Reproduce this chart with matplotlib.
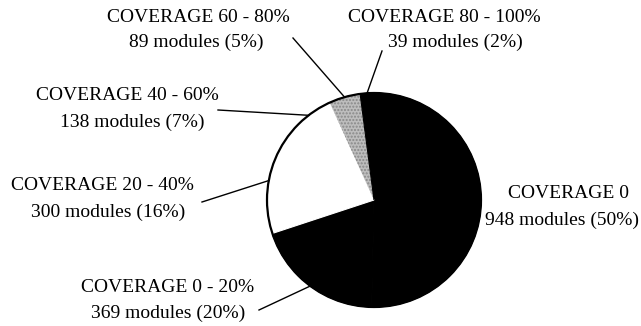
import matplotlib
matplotlib.use("Agg")
import matplotlib.pyplot as plt
import numpy as np

categories = ["COVERAGE 0", "COVERAGE 0 - 20%", "COVERAGE 20 - 40%",
              "COVERAGE 40 - 60%", "COVERAGE 60 - 80%", "COVERAGE 80 - 100%"]
modules = [948, 369, 300, 138, 89, 39]
percents = [50, 20, 16, 7, 5, 2]
colors = ["black", "black", "white", "white", "#bdbdbd", "black"]

W, H = 641, 326
plt.rcParams['font.family'] = ['Liberation Serif', 'DejaVu Serif']

fig = plt.figure(figsize=(W / 100, H / 100), dpi=100)
ax = fig.add_axes([0, 0, 1, 1])

cx, cy, r = 374, H - 200, 107
wedges, _ = ax.pie(modules, colors=colors, startangle=90, counterclock=False,
                   center=(cx, cy), radius=r, frame=True)
ax.set_xlim(0, W)
ax.set_ylim(0, H)
ax.set_aspect('equal')
ax.axis('off')
for w, c in zip(wedges, colors):
    w.set_edgecolor(c)
    w.set_linewidth(0.8)
# stipple on 60-80 slice
wedges[4].set_hatch('.....')
wedges[4].set_edgecolor('#888888')
wedges[4].set_linewidth(0)

outline = plt.Circle((cx, cy), r, fill=False, edgecolor='black', linewidth=1.6)
ax.add_patch(outline)

# label layout: (line1 center x, line1 y, line2 center x, line2 y, leader start) in image px
layout = [
    (568, 194, 562, 220, None),
    (168, 288, 168, 313, (259, 310)),
    (102, 185, 108, 212, (202, 202)),
    (127, 95, 132, 122, (218, 110)),
    (198, 18, 196, 42, (293, 38)),
    (444, 17, 455, 42, (382, 51)),
]

fs = 14
for w, cat, m, p, (x1, y1, x2, y2, start) in zip(wedges, categories, modules, percents, layout):
    ax.text(x1, H - y1, cat, ha='center', va='center', fontsize=fs)
    ax.text(x2, H - y2, f"{m} modules ({p}%)", ha='center', va='center', fontsize=fs)
    if start is not None:
        ang = np.deg2rad((w.theta1 + w.theta2) / 2)
        ex, ey = cx + r * np.cos(ang), cy + r * np.sin(ang)
        ax.plot([start[0], ex], [H - start[1], ey], color='black', lw=1.0)

fig.savefig("out.png", dpi=100)
